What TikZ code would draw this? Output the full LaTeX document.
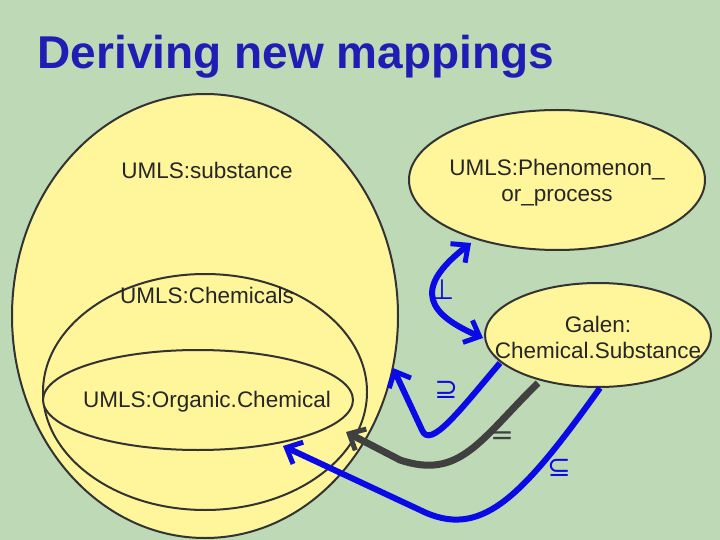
\documentclass[tikz,border=0pt]{standalone}
\usepackage{fontspec}
\setmainfont{Liberation Sans}
\newfontfamily\symf{DejaVu Sans}
\usetikzlibrary{arrows.meta}
\definecolor{bg}{HTML}{BDD9B5}
\definecolor{fillY}{HTML}{FFF59A}
\definecolor{ttl}{HTML}{1E1EB4}
\definecolor{arrB}{HTML}{0A0AE6}
\begin{document}
\begin{tikzpicture}[x=1pt,y=-1pt,
  ell/.style={draw=black!80,line width=2pt,fill=fillY},
  lab/.style={font=\fontsize{22.5}{26}\selectfont,text=black!85,align=center},
  conB/.style={draw=arrB,line width=6pt,-{Straight Barb[length=13pt,width=24pt,line width=5pt]}},
  conK/.style={draw=black!75,line width=7pt,-{Straight Barb[length=13pt,width=24pt,line width=5pt]}},
  rel/.style={font=\symf\fontsize{28}{30}\selectfont,text=arrB}]
\fill[bg] (0,0) rectangle (720,540);
\useasboundingbox (0,0) rectangle (720,540);
\node[anchor=west,font=\bfseries\fontsize{46}{48}\selectfont,text=ttl] (title) at (34,57) {Deriving new mappings};
\path[ell] (205,316) ellipse [x radius=193,y radius=222];
\path[ell] (205,392) ellipse [x radius=162,y radius=118];
\path[ell] (198,400) ellipse [x radius=155,y radius=50];
\path[ell] (557,180) ellipse [x radius=148,y radius=70];
\path[ell] (598,335) ellipse [x radius=113,y radius=52];
\node[lab] (sub) at (207,170) {UMLS:substance};
\node[lab] (chem) at (207,295) {UMLS:Chemicals};
\node[lab] (org) at (207,402) {UMLS:Organic.Chemical};
\node[lab] (phen) at (557,183) {UMLS:Phenomenon\_\\or\_process};
\node[lab] (gal) at (598,337) {Galen:\\Chemical.Substance};
\coordinate (p1) at (471,243);
\coordinate (p2) at (483,338);
\coordinate (a1) at (500,363);
\coordinate (a2) at (393,368);
\coordinate (b1) at (538,383);
\coordinate (b2) at (346,432);
\coordinate (c1) at (600,388);
\coordinate (c2) at (283,446);
\draw[conB,{Straight Barb[length=13pt,width=24pt,line width=5pt]}-{Straight Barb[length=13pt,width=24pt,line width=5pt]}] (p1) .. controls (410,290) and (430,315) .. (p2);
\draw[conB] (a1) .. controls (460,410) and (430,450) .. (422,430) -- (a2);
\draw[conK] (b1) .. controls (480,440) and (460,480) .. (400,460) -- (b2);
\draw[conB] (c1) .. controls (520,500) and (480,540) .. (420,510) -- (c2);
\node[rel] (r1) at (442,290) {⊥};
\node[rel] (r2) at (446,390) {⊇};
\node[rel,text=black!75] (r3) at (502,438) {=};
\node[rel] (r4) at (559,468) {⊆};
\end{tikzpicture}
\end{document}
